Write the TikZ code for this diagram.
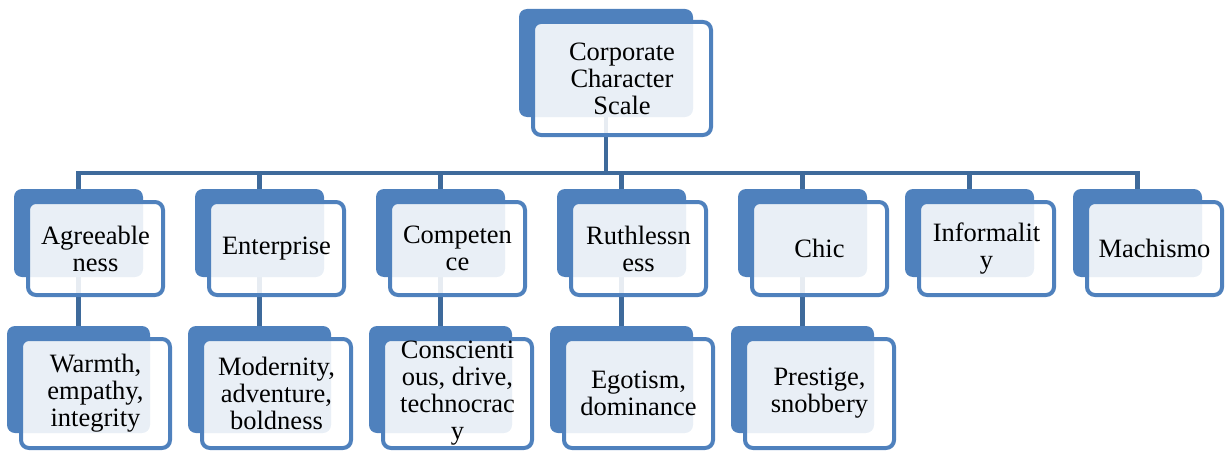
\documentclass[tikz,border=0pt]{standalone}
\usepackage{fontspec}
\setmainfont{Liberation Serif}
\newfontfamily\labelface{Liberation Serif}
\usetikzlibrary{backgrounds}
\definecolor{boxblue}{HTML}{4F81BD}
\definecolor{linkblue}{HTML}{3E6A9B}
\begin{document}
\begin{tikzpicture}[x=1pt,y=-1pt,
  shade box/.style={rectangle, fill=boxblue, rounded corners=8pt,
    inner sep=0pt, outer sep=0pt, anchor=north west},
  face box/.style={rectangle, draw=boxblue, line width=4pt, fill=white,
    fill opacity=0.88, text opacity=1, rounded corners=8pt, inner sep=0pt,
    outer sep=0pt, anchor=north west, align=center,
    font=\labelface\fontsize{26.5}{27}\selectfont},
  topback/.style={shade box, minimum width=174pt, minimum height=108pt},
  topface/.style={face box, minimum width=178pt, minimum height=113pt},
  midback/.style={shade box, minimum width=129pt, minimum height=88pt},
  midface/.style={face box, minimum width=135pt, minimum height=93pt},
  lowback/.style={shade box, minimum width=143pt, minimum height=107pt},
  lowface/.style={face box, minimum width=149pt, minimum height=109pt},
  link/.style={draw=linkblue, line width=4.5pt}
]
\useasboundingbox (0,0) rectangle (1225,452);

% root
\node[topback] (rootb) at (519,9) {};
\node[topface] (root) at (533,22) {Corporate\\Character\\Scale};

% second level
\newcommand\midunit[3]{%
  \node[midback] (#1b) at (#2,189) {};
  \node[midface] (#1) at (#2+14,202) {#3};}
\midunit{agr}{14}{Agreeable\\ness}
\midunit{ent}{195}{Enterprise}
\midunit{com}{376}{Competen\\ce}
\midunit{rut}{557}{Ruthlessn\\ess}
\midunit{chi}{738}{Chic}
\midunit{inf}{905}{Informalit\\y}
\midunit{mac}{1073}{Machismo}

% third level
\newcommand\lowunit[3]{%
  \node[lowback] (#1b) at (#2,326) {};
  \node[lowface] (#1) at (#2+14,339) {#3};}
\lowunit{war}{7}{Warmth,\\empathy,\\integrity}
\lowunit{mod}{188}{Modernity,\\adventure,\\boldness}
\lowunit{con}{369}{Conscienti\\ous, drive,\\technocrac\\y}
\lowunit{ego}{550}{Egotism,\\dominance}
\lowunit{pre}{731}{Prestige,\\snobbery}

% connectors run underneath the boxes
\begin{pgfonlayer}{background}
  \coordinate (hub) at (rootb.south |- 0,173);
  \draw[link] (rootb.south) -- (hub);
  \foreach \c in {agr,ent,com,rut,chi,inf,mac}
    \draw[link] (hub) -| (\c b.north);
  \draw[link] (agrb.south) -- (warb.north);
  \draw[link] (entb.south) -- (modb.north);
  \draw[link] (comb.south) -- (conb.north);
  \draw[link] (rutb.south) -- (egob.north);
  \draw[link] (chib.south) -- (preb.north);
\end{pgfonlayer}
\end{tikzpicture}
\end{document}
